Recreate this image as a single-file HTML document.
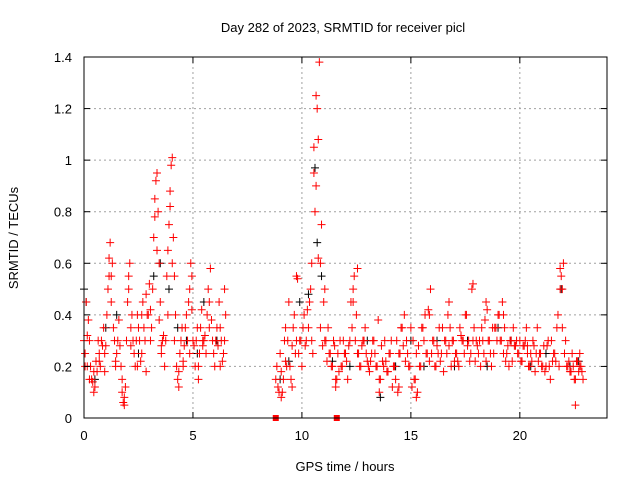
<!DOCTYPE html>
<html><head><meta charset="utf-8"><style>
body{margin:0;background:#fff}
svg{display:block;font-family:"Liberation Sans",sans-serif;font-size:13px}
</style></head><body>
<svg id="chart" width="640" height="480" xmlns="http://www.w3.org/2000/svg">
<rect width="640" height="480" fill="#fff"/>
<g id="grid"></g><g id="marks"></g><g id="axes"></g>
</svg>
<script>
const xTicks=[0,5,10,15,20];
const yTicks=[0,0.2,0.4,0.6,0.8,1,1.2,1.4];
const yTickLabels=["0","0.2","0.4","0.6","0.8","1","1.2","1.4"];
const segAStart=0.0, segBStart=8.8, segCStart=0.05, segDStart=8.85, segStep=0.1;
const redA=[0.3,0.45,0.38,0.2,0.14,0.12,0.18,0.25,0.3,0.35,0.28,0.5,0.68,0.6,0.3,0.25,0.38,0.2,0.06,0.12,0.45,0.6,0.4,0.25,0.3,0.35,0.22,0.45,0.3,0.4,0.52,0.35,0.7,0.92,0.8,0.45,0.3,0.2,0.55,0.75,0.98,0.7,0.4,0.15,0.25,0.35,0.28,0.4,0.45,0.6,0.3,0.2,0.35,0.25,0.42,0.3,0.25,0.5,0.58,0.3,0.2,0.35,0.45,0.3,0.25,0.4];
const redB=[0.15,0.12,0.25,0.1,0.3,0.2,0.45,0.15,0.35,0.25,0.54,0.3,0.2,
0.4,0.3,0.35,0.5,0.25,0.8,1.2,1.38,0.75,0.45,
0.3,0.35,0.25,0.2,0.28,0.15,0.18,0.2,0.3,0.25,
0.15,0.3,0.35,0.55,0.4,0.25,0.2,0.3,0.35,0.22,
0.18,0.25,0.3,0.2,0.38,0.15,0.22,0.3,0.18,0.25,
0.3,0.2,0.15,0.1,0.25,0.35,0.4,0.3,0.2,0.35,
0.3,0.15,0.1,0.2,0.35,0.3,0.25,0.42,0.5,0.3,
0.2,0.28,0.35,0.25,0.18,0.3,0.4,0.35,0.3,0.22,
0.25,0.2,0.32,0.3,0.4,0.28,0.22,0.5,0.35,0.3,
0.25,0.2,0.3,0.38,0.42,0.3,0.2,0.25,0.35,0.4,
0.3,0.45,0.35,0.25,0.2,0.3,0.35,0.28,0.25,0.3,
0.22,0.28,0.35,0.2,0.25,0.3,0.18,0.35,0.25,0.2,
0.28,0.2,0.3,0.15,0.22,0.25,0.35,0.2,0.55,0.6,
0.3,0.2,0.18,0.25,0.15,0.22,0.18,0.2,0.15];
const redC=[0.25,0.2,0.3,0.15,0.18,0.22,0.3,0.2,0.28,0.25,0.4,0.55,0.45,0.35,0.22,0.3,0.28,0.1,0.08,0.3,0.5,0.35,0.3,0.2,0.4,0.3,0.25,0.35,0.48,0.4,0.42,0.5,0.78,0.65,0.38,0.28,0.32,0.3,0.65,0.82,0.6,0.3,0.2,0.18,0.3,0.22,0.35,0.3,0.5,0.42,0.28,0.3,0.2,0.35,0.28,0.32,0.4,0.45,0.38,0.25,0.3,0.28,0.35,0.22,0.3];
const redD=[0.2,0.1,0.18,0.15,0.22,0.3,0.2,0.28,0.4,0.3,
0.25,0.3,0.35,0.28,0.42,0.45,0.6,1.05,0.9,0.62,
0.35,0.28,0.3,0.22,0.25,0.2,0.3,0.15,0.25,0.3,
0.2,0.25,0.22,0.28,0.45,0.5,0.3,0.25,0.2,0.28,
0.3,0.25,0.2,0.22,0.3,0.25,0.2,0.15,0.28,0.2,
0.22,0.18,0.25,0.12,0.2,0.3,0.25,0.35,0.28,0.22,
0.25,0.2,0.12,0.15,0.25,0.28,0.2,0.35,0.4,0.25,
0.22,0.25,0.3,0.2,0.25,0.22,0.35,0.3,0.25,0.28,
0.2,0.3,0.25,0.22,0.35,0.3,0.25,0.4,0.3,0.25,
0.3,0.22,0.28,0.3,0.35,0.25,0.22,0.3,0.25,0.35,
0.35,0.3,0.4,0.3,0.25,0.22,0.28,0.3,0.22,0.28,
0.3,0.25,0.22,0.28,0.3,0.25,0.2,0.22,0.28,0.25,
0.22,0.25,0.2,0.18,0.28,0.2,0.3,0.25,0.22,0.4,
0.5,0.35,0.25,0.2,0.22,0.18,0.2,0.15,0.22,0.2,
0.18];
const redExtra=[[0.05,0.2],[0.15,0.32],[0.25,0.15],[0.45,0.1],[0.7,0.22],[0.95,0.18],[1.15,0.62],[1.25,0.55],[1.45,0.2],[1.75,0.15],[1.85,0.05],[2.05,0.55],[2.15,0.28],[2.45,0.2],[2.65,0.4],[2.85,0.18],[3.05,0.3],[3.25,0.85],[3.35,0.95],[3.45,0.6],[3.55,0.25],[3.85,0.4],[3.95,0.88],[4.05,1.01],[4.15,0.55],[4.35,0.12],[4.55,0.2],[4.85,0.25],[4.95,0.55],[5.25,0.15],[5.45,0.3],[5.75,0.35],[6.05,0.3],[6.25,0.2],[6.45,0.5],[9.05,0.08],[9.25,0.35],[9.55,0.12],[9.75,0.55],[10.45,0.3],[10.55,0.95],[10.65,1.25],[10.75,1.08],[10.85,0.6],[11.05,0.5],[11.55,0.12],[12.35,0.45],[12.55,0.58],[13.55,0.1],[14.45,0.12],[15.25,0.08],[15.85,0.4],[16.75,0.45],[17.85,0.52],[18.45,0.45],[19.25,0.4],[20.35,0.28],[21.85,0.58],[21.95,0.5],[22.55,0.05],[22.75,0.25]];
const black=[[0.0,0.5],[0.1,0.45],[0.5,0.15],[1.0,0.35],[1.5,0.4],[2.5,0.25],[3.2,0.55],[3.5,0.6],[3.9,0.5],[4.3,0.35],[4.7,0.3],[5.2,0.25],[5.5,0.45],[6.1,0.3],[9.0,0.15],[9.4,0.22],[9.9,0.45],[10.3,0.48],[10.6,0.97],[10.7,0.68],[10.9,0.55],[11.4,0.22],[12.2,0.2],[13.0,0.3],[13.6,0.08],[14.3,0.2],[15.0,0.3],[15.6,0.2],[16.2,0.3],[17.0,0.2],[17.6,0.3],[18.5,0.2],[19.0,0.35],[19.6,0.3],[20.5,0.2],[21.2,0.25],[21.9,0.5],[22.3,0.2],[22.7,0.22]];
const gapMarkers=[8.8,11.6];

const L=84,R=607,T=57,B=418,XMAX=24,YMAX=1.4;
const sx=v=>L+(R-L)*v/XMAX, sy=v=>B-(B-T)*v/YMAX;
const NS="http://www.w3.org/2000/svg";
function mk(tag,parent,attrs){const e=document.createElementNS(NS,tag);for(const k in attrs)e.setAttribute(k,attrs[k]);parent.appendChild(e);return e;}
const grid=document.getElementById('grid'),marks=document.getElementById('marks'),axes=document.getElementById('axes');
xTicks.forEach(t=>{const x=sx(t);
 if(t>0){const g=mk('line',grid,{x1:x,x2:x,y1:T,y2:B,stroke:'#a0a0a0','stroke-dasharray':'2,3'});
 
 }
 mk('line',axes,{x1:x,x2:x,y1:B,y2:B-6,stroke:'#000'});mk('line',axes,{x1:x,x2:x,y1:T,y2:T+6,stroke:'#000'});
 const tx=mk('text',axes,{x:x,y:B+22,'text-anchor':'middle'});tx.textContent=t;
 
 
});
yTicks.forEach((t,i)=>{const y=sy(t);
 if(t>0&&t<YMAX){const g=mk('line',grid,{x1:L,x2:R,y1:y,y2:y,stroke:'#a0a0a0','stroke-dasharray':'2,3'});
 
 }
 mk('line',axes,{x1:L,x2:L+6,y1:y,y2:y,stroke:'#000'});mk('line',axes,{x1:R,x2:R-6,y1:y,y2:y,stroke:'#000'});
 const tx=mk('text',axes,{x:L-12,y:y+5,'text-anchor':'end'});tx.textContent=yTickLabels[i];
 
 
});
const frame=mk('rect',axes,{x:L,y:T,width:R-L,height:B-T,fill:'none',stroke:'#000'});


function plus(t,v,col,name){const x=sx(t),y=sy(v);
 const p=mk('path',marks,{d:`M${x-4},${y}h8M${x},${y-4}v8`,stroke:col,'stroke-width':1});
 
 }
black.forEach(d=>plus(d[0],d[1],'#000','black-point'));
redA.forEach((v,i)=>plus(segAStart+segStep*i,v,'#f00','red-point'));
redB.forEach((v,i)=>plus(segBStart+segStep*i,v,'#f00','red-point'));
redC.forEach((v,i)=>plus(segCStart+segStep*i,v,'#f00','red-point'));
redD.forEach((v,i)=>plus(segDStart+segStep*i,v,'#f00','red-point'));
redExtra.forEach(d=>plus(d[0],d[1],'#f00','red-point'));
gapMarkers.forEach(t=>{const r=mk('rect',marks,{x:sx(t)-3,y:B-3,width:6,height:6,fill:'#f00'});
 
 });
const svg=document.getElementById('chart');
const title=mk('text',svg,{x:343,y:32,'text-anchor':'middle'});title.textContent='Day 282 of 2023, SRMTID for receiver picl';


const xl=mk('text',svg,{x:345,y:471,'text-anchor':'middle'});xl.textContent='GPS time / hours';


const yl=mk('text',svg,{x:18,y:238,'text-anchor':'middle',transform:'rotate(-90 18 238)'});yl.textContent='SRMTID / TECUs';


</script>
</body></html>
